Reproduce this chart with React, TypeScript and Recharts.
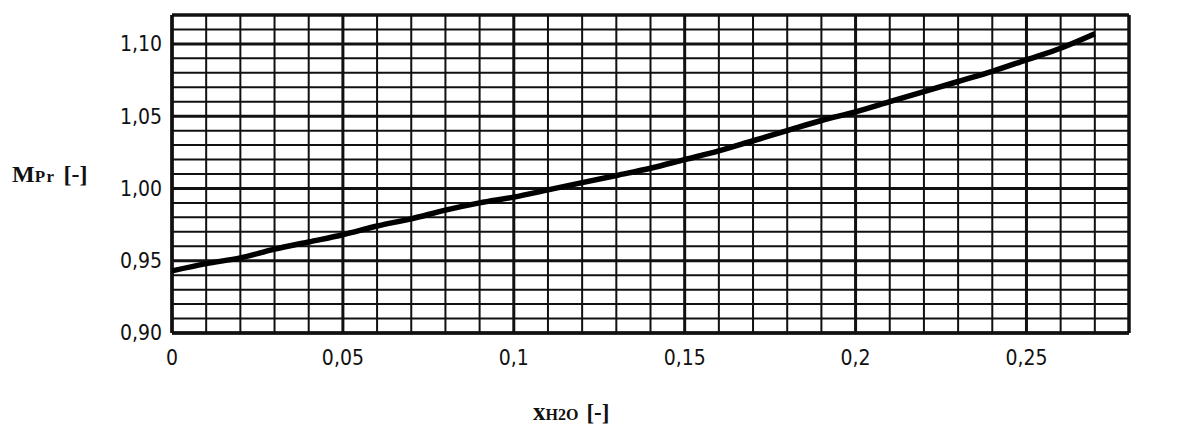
import React from 'react';
import { LineChart, Line, XAxis, YAxis, ReferenceLine } from 'recharts';

// x_H2O [-] and M_Pr [-]
const xValues = [0, 0.01, 0.02, 0.03, 0.04, 0.05, 0.06, 0.07, 0.08, 0.09, 0.1, 0.11, 0.12, 0.13, 0.14, 0.15, 0.16, 0.17, 0.18, 0.19, 0.2, 0.21, 0.22, 0.23, 0.24, 0.25, 0.26, 0.27];
const mPrValues = [0.943, 0.948, 0.952, 0.958, 0.963, 0.968, 0.974, 0.979, 0.985, 0.99, 0.994, 0.999, 1.004, 1.009, 1.014, 1.02, 1.026, 1.033, 1.04, 1.047, 1.053, 1.06, 1.067, 1.074, 1.081, 1.089, 1.097, 1.107];

const xTicks = [0, 0.05, 0.1, 0.15, 0.2, 0.25];
const yTicks = [0.9, 0.95, 1.0, 1.05, 1.1];
const xDomain: [number, number] = [0, 0.28];
const yDomain: [number, number] = [0.9, 1.12];

// fine millimetre-paper grid, one line every 0.01
const gridX: number[] = [];
for (let i = 0; i <= 28; i++) gridX.push(i / 100);
const gridY: number[] = [];
for (let i = 90; i <= 112; i++) gridY.push(i / 100);

const data = xValues.map((x, i) => ({ x, m: mPrValues[i] }));

const ink = '#111';
const tickStyle = { fill: ink, fontSize: 21, fontFamily: '"Liberation Sans Narrow", "DejaVu Sans Condensed", sans-serif' };
const fmt = (v: number) => String(v).replace('.', ',');
const fmtY = (v: number) => v.toFixed(2).replace('.', ',');

const isMajor = (v: number) => Math.round(v * 100) % 5 === 0;

const YLabel = (props: any) => {
  const vb = props.viewBox || { x: 112, y: 15, height: 318 };
  return (
    <text x={vb.x - 100} y={vb.y + vb.height / 2 + 8} fill={ink} fontFamily='"Liberation Serif", serif' fontWeight="bold">
      <tspan fontSize={24}>M</tspan>
      <tspan fontSize={17} letterSpacing={1.5}>Pr</tspan>
      <tspan dx={8} fontSize={24}>[-]</tspan>
    </text>
  );
};

const XLabel = (props: any) => {
  const vb = props.viewBox || { x: 172, y: 333 };
  return (
    <text x={vb.x + 361} y={vb.y + 87} fill={ink} fontFamily='"Liberation Serif", serif' fontWeight="bold">
      <tspan fontSize={25}>x</tspan>
      <tspan fontSize={16}>H2O</tspan>
      <tspan dx={8} fontSize={23}>[-]</tspan>
    </text>
  );
};

export default function App() {
  return (
    <div style={{ position: 'absolute', left: 0, top: 0, background: '#fff' }}>
      <LineChart width={1184} height={425} data={data} margin={{ top: 15, right: 0, bottom: 0, left: 112 }}>
        <XAxis
          dataKey="x"
          type="number"
          domain={xDomain}
          ticks={xTicks}
          tickFormatter={fmt}
          axisLine={false}
          tickLine={false}
          tickSize={0}
          tickMargin={17}
          height={92}
          tick={tickStyle}
          interval={0}
          label={<XLabel />}
        />
        <YAxis
          type="number"
          domain={yDomain}
          ticks={yTicks}
          tickFormatter={fmtY}
          axisLine={false}
          tickLine={false}
          tickSize={0}
          tickMargin={10}
          width={60}
          tick={tickStyle}
          interval={0}
          label={<YLabel />}
        />
        <YAxis
          yAxisId="right"
          orientation="right"
          type="number"
          domain={yDomain}
          ticks={yTicks}
          tickFormatter={fmtY}
          axisLine={false}
          tickLine={false}
          tickSize={0}
          tickMargin={9}
          width={55}
          tick={{ ...tickStyle, textAnchor: 'start' }}
          interval={0}
        />
        {gridX.map((v) => (
          <ReferenceLine key={'gx' + v} x={v} stroke={ink} strokeWidth={isMajor(v) ? 3 : 2} ifOverflow="visible" />
        ))}
        {gridY.map((v) => (
          <ReferenceLine key={'gy' + v} y={v} stroke={ink} strokeWidth={isMajor(v) ? 3 : 2} ifOverflow="visible" />
        ))}
        {/* heavy frame */}
        <ReferenceLine x={xDomain[0]} stroke={ink} strokeWidth={3.5} />
        <ReferenceLine x={xDomain[1]} stroke={ink} strokeWidth={3.5} />
        <ReferenceLine y={yDomain[0]} stroke={ink} strokeWidth={3.5} />
        <ReferenceLine y={yDomain[1]} stroke={ink} strokeWidth={3.5} />
        <Line
          type="monotone"
          dataKey="m"
          stroke="#000"
          strokeWidth={5.5}
          dot={false}
          isAnimationActive={false}
        />
      </LineChart>
    </div>
  );
}
